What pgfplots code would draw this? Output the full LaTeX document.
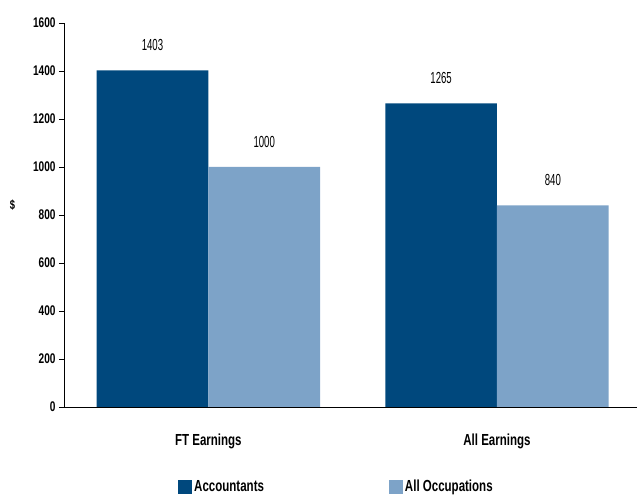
\documentclass[border=0pt]{standalone}
\usepackage{fontspec}
\setmainfont{Liberation Sans}[FakeStretch=0.72]
\newfontfamily\valfont{Liberation Sans}[FakeStretch=0.6]
\usepackage{pgfplots}
\pgfplotsset{compat=1.18}
\definecolor{accdark}{HTML}{00487D}
\definecolor{occlight}{HTML}{7DA3C8}

\begin{document}
\begin{tikzpicture}[x=1pt,y=1pt]
\begin{axis}[
    at={(64pt,90pt)}, anchor=south west,
    scale only axis,
    width=573pt, height=384pt,
    ybar=0pt,
    bar width=0.387,
    ymin=0, ymax=1600,
    ytick={0,200,...,1600},
    xmin=-0.5, xmax=1.485,
    xtick={0,1},
    xticklabels={FT Earnings, All Earnings},
    extra x ticks={0.5},
    extra x tick labels={},
    extra x tick style={major tick length=6pt, tick style={black}},
    axis x line*=bottom,
    axis y line*=left,
    axis line style={black, line width=0.8pt, -},
    x tick style={draw=none},
    y tick style={black, line width=0.6pt},
    major tick length=5pt,
    tick align=outside,
    /pgf/number format/1000 sep={},
    ticklabel style={font=\fontsize{14}{14}\selectfont\bfseries},
    xticklabel style={font=\fontsize{16}{16}\selectfont\bfseries, yshift=-18pt},
    ylabel={\$},
    ylabel style={rotate=-90, font=\fontsize{13}{13}\selectfont\bfseries, at={(axis description cs:-0.09,0.525)}, anchor=center},
    /pgf/number format/assume math mode=true,
    nodes near coords,
    every node near coord/.append style={font=\valfont\fontsize{16}{16}\selectfont, anchor=center, yshift=25.5pt, black},
    legend style={
        at={(axis description cs:0.199,-0.208)}, anchor=west,
        draw=none, fill=none, inner sep=0pt,
        legend columns=2,
        font=\fontsize{16}{16}\selectfont\bfseries,
        /tikz/every even column/.append style={column sep=123pt},
    },
    legend image code/.code={\fill[#1] (0pt,-7pt) rectangle (14pt,7pt);},
    clip=false,
]
\addplot[fill=accdark, draw=none] coordinates {(0,1403) (1,1265)};
\addplot[fill=occlight, draw=none] coordinates {(0,1000) (1,840)};
\legend{Accountants, All Occupations}
\end{axis}
\pgfresetboundingbox
\path (0,0) rectangle (638pt,497pt);
\end{tikzpicture}
\end{document}
